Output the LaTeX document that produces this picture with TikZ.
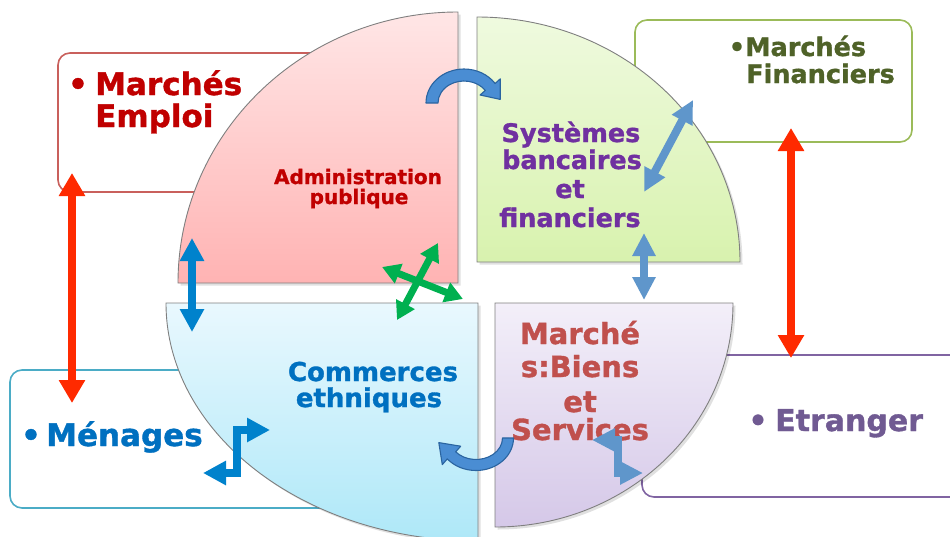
\documentclass[tikz,border=0pt]{standalone}
\usepackage{fontspec}
\setmainfont{DejaVu Sans}[BoldFeatures={FakeBold=1.2}]
\usetikzlibrary{arrows.meta}
\definecolor{darkRed}{HTML}{C00000}
\definecolor{purpleT}{HTML}{7030A0}
\definecolor{blueT}{HTML}{0070C0}
\definecolor{marcheT}{HTML}{C0504D}
\definecolor{oliveT}{HTML}{4F6228}
\definecolor{etrT}{HTML}{705A92}
\definecolor{arrRed}{HTML}{FF2A00}
\definecolor{arrBlue}{HTML}{0082CC}
\definecolor{arrSteel}{HTML}{5F96CB}
\definecolor{arrGreen}{HTML}{00B050}
\definecolor{curvFill}{HTML}{4A8DD3}
\definecolor{curvEdge}{HTML}{2A64A0}
\definecolor{bEmploi}{HTML}{C9605C}
\definecolor{bFin}{HTML}{9BBB59}
\definecolor{bMen}{HTML}{4BACC6}
\definecolor{bEtr}{HTML}{8064A2}
\definecolor{quadEdge}{HTML}{7F7F7F}
\definecolor{pinkTop}{HTML}{FFE6E6}
\definecolor{pinkBot}{HTML}{FFB3B3}
\definecolor{greenTop}{HTML}{EFFADF}
\definecolor{greenBot}{HTML}{D8F2AE}
\definecolor{blueTop}{HTML}{E9F8FE}
\definecolor{blueBot}{HTML}{AEE8F8}
\definecolor{purpTop}{HTML}{F3EFF9}
\definecolor{purpBot}{HTML}{D5C8E8}
\begin{document}
\begin{tikzpicture}[x=1pt,y=-1pt,
  box/.style={rounded corners=12pt, line width=1.6pt, fill=white, inner sep=0pt},
  quad/.style={draw=quadEdge, line width=0.9pt},
  shadowq/.style={fill=black, opacity=0.12},
  lbl/.style={inner sep=0pt, anchor=base},
  lblw/.style={inner sep=0pt, anchor=base west},
  fBig/.style={font=\fontsize{31}{31}\selectfont\bfseries},
  fEtr/.style={font=\fontsize{30}{30}\selectfont\bfseries},
  fFin/.style={font=\fontsize{25.5}{25.5}\selectfont\bfseries},
  fAdm/.style={font=\fontsize{20}{20}\selectfont\bfseries},
  fSys/.style={font=\fontsize{25.5}{25.5}\selectfont\bfseries},
  fCom/.style={font=\fontsize{26}{26}\selectfont\bfseries},
  fMar/.style={font=\fontsize{29}{29}\selectfont\bfseries},
  redarr/.style={draw=arrRed, line width=8pt,
    {Triangle[length=23pt,width=25pt]}-{Triangle[length=23pt,width=25pt]}},
  bluearr/.style={draw=arrBlue, line width=8pt, line join=miter,
    {Triangle[length=23pt,width=23pt]}-{Triangle[length=23pt,width=23pt]}},
  steelarr/.style={draw=arrSteel, line width=8pt, line join=miter,
    {Triangle[length=23pt,width=22pt]}-{Triangle[length=23pt,width=22pt]}},
  greenarr/.style={draw=arrGreen, line width=7pt,
    {Triangle[length=18pt,width=20pt]}-{Triangle[length=18pt,width=20pt]}},
  curved/.style={fill=curvFill, draw=curvEdge, line width=1.1pt, line join=round}
]
\useasboundingbox (0,0) rectangle (950,536);
\clip (0,0) rectangle (950,536);

% ---- outer boxes ----
\node[box, draw=bEmploi, minimum width=292pt, minimum height=139pt] (emploiBox) at (204,122.5) {};
\node[box, draw=bFin, minimum width=277pt, minimum height=122pt] (finBox) at (773.5,81) {};
\node[box, draw=bMen, minimum width=390pt, minimum height=138pt] (menBox) at (205,439) {};
\node[box, draw=bEtr, minimum width=348pt, minimum height=142pt] (etrBox) at (816,426) {};

% ---- quadrant shadows ----
\begin{scope}[shift={(2.5,2.5)}]
\fill[shadowq] (458,283) -- (178,283) arc[start angle=180,end angle=270,x radius=280,y radius=271] -- cycle;
\fill[shadowq] (477,262) -- (477,17) arc[start angle=270,end angle=360,x radius=263,y radius=245] -- cycle;
\fill[shadowq] (478,303) -- (166,303) arc[start angle=180,end angle=90,x radius=312,y radius=238] -- cycle;
\fill[shadowq] (495,303) -- (733,303) arc[start angle=0,end angle=90,x radius=238,y radius=224] -- cycle;
\end{scope}

% ---- quadrants ----
\shadedraw[quad, top color=pinkTop, bottom color=pinkBot]
  (458,283) -- (178,283) arc[start angle=180,end angle=270,x radius=280,y radius=271] -- cycle;
\shadedraw[quad, top color=greenTop, bottom color=greenBot]
  (477,262) -- (477,17) arc[start angle=270,end angle=360,x radius=263,y radius=245] -- cycle;
\shadedraw[quad, top color=blueTop, bottom color=blueBot]
  (478,303) -- (166,303) arc[start angle=180,end angle=90,x radius=312,y radius=238] -- cycle;
\shadedraw[quad, top color=purpTop, bottom color=purpBot]
  (495,303) -- (733,303) arc[start angle=0,end angle=90,x radius=238,y radius=224] -- cycle;

% ---- box texts ----
\node[lbl, fBig, text=darkRed] (emploiBul) at (78,95) {•};
\node[lblw, fBig, text=darkRed] (emploi1) at (95,95) {Marchés};
\node[lblw, fBig, text=darkRed] (emploi2) at (95,127) {Emploi};

\node[lbl, fFin, text=oliveT] (finBul) at (737,56) {•};
\node[lblw, fFin, text=oliveT] (fin1) at (745,56) {Marchés};
\node[lblw, fFin, text=oliveT] (fin2) at (746,83) {Financiers};

\node[lbl, fBig, text=blueT] (menBul) at (31,446) {•};
\node[lblw, fBig, text=blueT] (men1) at (46,446) {Ménages};

\node[lbl, fEtr, text=etrT] (etrBul) at (758,431) {•};
\node[lblw, fEtr, text=etrT] (etr1) at (775,431) {Etranger};

% ---- quadrant texts ----
\node[lbl, fAdm, text=darkRed] (adm1) at (358,184) {Administration};
\node[lbl, fAdm, text=darkRed] (adm2) at (359,204) {publique};

\node[lbl, fSys, text=purpleT] (sys1) at (571,142) {Systèmes};
\node[lbl, fSys, text=purpleT] (sys2) at (572,169) {bancaires};
\node[lbl, fSys, text=purpleT] (sys3) at (570,198) {et};
\node[lbl, fSys, text=purpleT] (sys4) at (570,227) {financiers};

\node[lbl, fCom, text=blueT] (com1) at (373,381) {Commerces};
\node[lbl, fCom, text=blueT] (com2) at (369,407) {ethniques};

\node[lbl, fMar, text=marcheT] (mar1) at (580,344) {Marché};
\node[lbl, fMar, text=marcheT] (mar2) at (580,377) {s:Biens};
\node[lbl, fMar, text=marcheT] (mar3) at (580,412) {et};
\node[lbl, fMar, text=marcheT] (mar4) at (580,440) {Services};

% ---- connector end points ----
\coordinate (redL1) at (72,173);
\coordinate (redL2) at (72,403);
\coordinate (redR1) at (791,128);
\coordinate (redR2) at (791,358);
\coordinate (bluV1) at (192,238);
\coordinate (bluV2) at (192,332);
\coordinate (diag1) at (693,100);
\coordinate (diag2) at (644,192);
\coordinate (stV1) at (644,233);
\coordinate (stV2) at (644,300);
\coordinate (grA1) at (438,243);
\coordinate (grA2) at (397,320);
\coordinate (grB1) at (382,267);
\coordinate (grB2) at (463,299);
\coordinate (zA1) at (203,473);
\coordinate (zA2) at (270,430);
\coordinate (zB1) at (592,440);
\coordinate (zB2) at (643,473);

% ---- straight arrows ----
\draw[redarr] (redL1) -- (redL2);
\draw[redarr] (redR1) -- (redR2);
\draw[bluearr] (bluV1) -- (bluV2);
\draw[steelarr] (diag1) -- (diag2);
\draw[steelarr] (stV1) -- (stV2);
\draw[greenarr] (grA1) -- (grA2);
\draw[greenarr] (grB1) -- (grB2);
\draw[bluearr] (zA1) -| (237,430) -- (zA2);
\draw[steelarr] (zB1) -- (618,440) -- (618,473) -- (zB2);

% ---- curved arrows ----
\draw[curved] (426,103) arc[start angle=180,end angle=325,x radius=38,y radius=34]
  -- (500.3,78.8) -- (500.2,99.4) -- (480.1,95.0) -- (485.3,90.4)
  arc[start angle=325,end angle=180,x radius=26,y radius=22] -- cycle;
\draw[curved] (513.5,438) arc[start angle=0,end angle=140,x radius=37.5,y radius=32.5]
  -- (442.3,464.6) -- (438.8,442.6) -- (460.7,446.2) -- (455.7,451.8)
  arc[start angle=140,end angle=0,x radius=26.5,y radius=21.5] -- cycle;
\end{tikzpicture}
\end{document}
